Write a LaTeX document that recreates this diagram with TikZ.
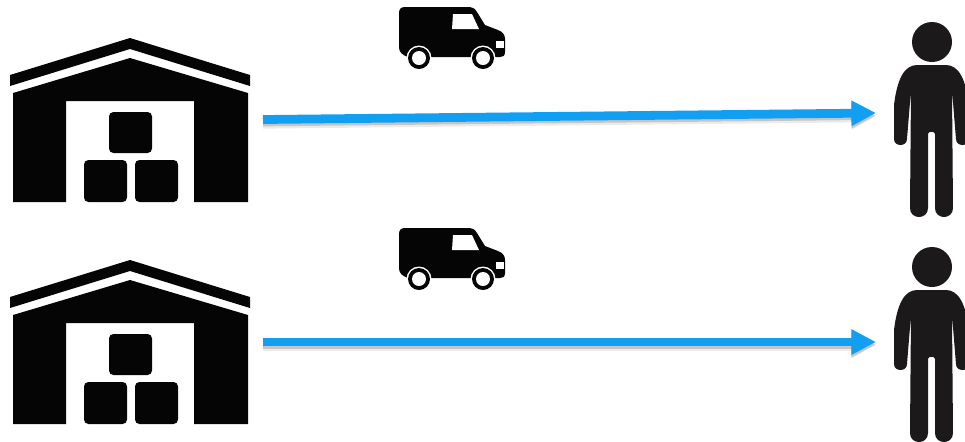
\documentclass[tikz,border=0pt]{standalone}
\usepackage{tikz}
\usetikzlibrary{arrows.meta}
\definecolor{routeblue}{HTML}{129FF2}
\definecolor{iconblack}{HTML}{050505}
\definecolor{personblack}{HTML}{1B191A}
\tikzset{
    iconfill/.style={fill=iconblack, draw=none},
    holefill/.style={fill=white, draw=none},
    stackbox/.style={iconfill, rounded corners=2.5pt},
    route/.style={-{Triangle[length=14pt, width=13.6pt]}, routeblue, line width=5pt,
        preaction={draw=black, opacity=0.08, line width=6.4pt, transform canvas={yshift=-2pt}},
        preaction={draw=black, opacity=0.16, line width=5pt, transform canvas={yshift=-1.4pt}}},
    depot/.pic={
        \fill[iconfill] (10,75) -- (130,38) -- (250,75) -- (250,86) -- (130,49) -- (10,86) -- cycle;
        \fill[iconfill] (13,93) -- (130,58) -- (248,93) -- (248,202) -- (194,202) -- (194,101)
            -- (66,101) -- (66,202) -- (13,202) -- cycle;
        \fill[stackbox] (109,112) rectangle (152,153);
        \fill[stackbox] (84,160) rectangle (127,202);
        \fill[stackbox] (135,160) rectangle (178,202);
    },
    van/.pic={
        \fill[iconfill] (399,13) .. controls (399,9) and (401,7) .. (405,7) -- (470,7)
            .. controls (473,7) and (475,9) .. (477,12) -- (485,25) -- (498,30)
            .. controls (503,32) and (505,35) .. (505,39) -- (505,52)
            .. controls (505,56) and (503,57) .. (500,57) -- (408,57)
            .. controls (402,55) and (399,52) .. (399,47) -- cycle;
        \fill[holefill] (453,14) -- (472,14) -- (479,29) -- (452,29) -- cycle;
        \fill[holefill] (496,41) rectangle (504,48);
        \foreach \wx in {419,483} {
            \fill[holefill] (\wx,58) circle[radius=12.5];
            \fill[iconfill] (\wx,58) circle[radius=11];
            \fill[holefill] (\wx,58) circle[radius=7];
        }
    },
    person/.pic={
        \fill[personblack] (932,42) circle[radius=20];
        \fill[personblack] (917,65) .. controls (904,65) and (897,80) .. (894,105) -- (894,139)
            .. controls (894,147) and (907,147) .. (907,139) -- (911,90) -- (910,208)
            .. controls (910,220) and (928,220) .. (928,208) -- (928,134)
            .. controls (928,131) and (935,131) .. (935,134) -- (935,208)
            .. controls (935,220) and (953,220) .. (953,208) -- (952,90) -- (956,139)
            .. controls (956,147) and (969,147) .. (969,139) -- (969,105)
            .. controls (966,80) and (959,65) .. (946,65) -- cycle;
    }
}
\begin{document}
\begin{tikzpicture}[x=0.02cm, y=-0.02cm]
\clip (0,0) rectangle (965,441);
\pic at (0,0) {depot};
\pic at (0,222) {depot};
\pic at (0,0) {van};
\pic at (0,221) {van};
\pic at (0,0) {person};
\pic at (0,225) {person};

\coordinate (depotA) at (263,119.5);
\coordinate (depotB) at (263,342);
\coordinate (customerA) at (876,113);
\coordinate (customerB) at (876,342);

\draw[route] (depotA) -- (customerA);
\draw[route] (depotB) -- (customerB);
\end{tikzpicture}
\end{document}
